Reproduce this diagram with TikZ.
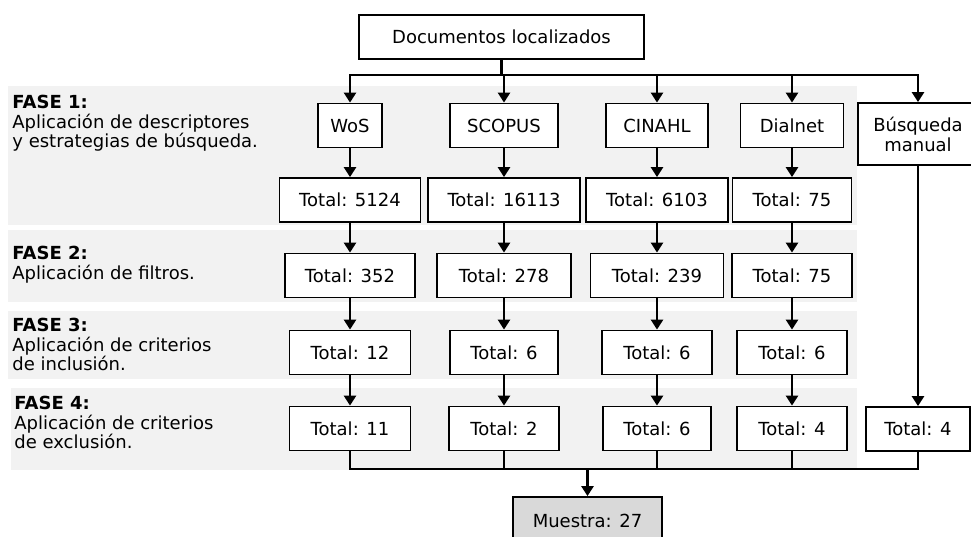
\documentclass[tikz,border=0pt]{standalone}
\usepackage{fontspec}
\setmainfont{DejaVu Sans}
\usetikzlibrary{positioning,calc,arrows.meta}

\begin{document}
\begin{tikzpicture}[x=1pt,y=-1pt,>={Triangle[length=10pt,width=12pt]},
        line width=2.8pt,
        main node/.style={draw, rectangle, align=center, line width=1.8pt, fill=white,
          minimum height=44pt, inner sep=2pt, font=\fontsize{18}{20}\selectfont},
        phase/.style={anchor=north west, align=left, inner sep=0pt,
          font=\fontsize{18}{19.5}\selectfont},
        band/.style={fill=black!5, draw=none}]

\useasboundingbox (0,0) rectangle (971,536);

% grey bands of the four phases
\fill[band] (8,86) rectangle (857,225);
\fill[band] (8,230) rectangle (857,302);
\fill[band] (8,311) rectangle (857,379);
\fill[band] (11,388) rectangle (857,470);

\node[phase] (f1) at (11,94) {\textbf{FASE 1:}\\Aplicación de descriptores\\y estrategias de búsqueda.};
\node[phase] (f2) at (11,245) {\textbf{FASE 2:}\\Aplicación de filtros.};
\node[phase] (f3) at (11,317) {\textbf{FASE 3:}\\Aplicación de criterios\\de inclusión.};
\node[phase] (f4) at (13,395) {\textbf{FASE 4:}\\Aplicación de criterios\\de exclusión.};

\node[main node, minimum width=285pt, line width=2.6pt] (docs) at (501.5,37) {Documentos localizados};

\node[main node, minimum width=64pt]  (w0) at (350,125.5) {WoS};
\node[main node, minimum width=108pt] (s0) at (504,125.5) {SCOPUS};
\node[main node, minimum width=102pt] (c0) at (657,125.5) {CINAHL};
\node[main node, minimum width=103pt] (d0) at (792,125.5) {Dialnet};
\node[main node, minimum width=120pt, minimum height=62pt] (m0) at (918,134) {Búsqueda\\manual};

\node[main node, minimum width=141pt] (w1) at (350,200) {Total: 5124};
\node[main node, minimum width=152pt] (s1) at (504,200) {Total: 16113};
\node[main node, minimum width=142pt] (c1) at (657,200) {Total: 6103};
\node[main node, minimum width=119pt] (d1) at (792,200) {Total: 75};

\node[main node, minimum width=130pt] (w2) at (350,275.5) {Total: 352};
\node[main node, minimum width=134pt] (s2) at (504,275.5) {Total: 278};
\node[main node, minimum width=133pt] (c2) at (657,275.5) {Total: 239};
\node[main node, minimum width=120pt] (d2) at (792,275.5) {Total: 75};

\node[main node, minimum width=121pt] (w3) at (350,352.5) {Total: 12};
\node[main node, minimum width=108pt] (s3) at (504,352.5) {Total: 6};
\node[main node, minimum width=110pt] (c3) at (657,352.5) {Total: 6};
\node[main node, minimum width=110pt] (d3) at (792,352.5) {Total: 6};

\node[main node, minimum width=121pt] (w4) at (350,428.5) {Total: 11};
\node[main node, minimum width=110pt] (s4) at (504,428.5) {Total: 2};
\node[main node, minimum width=108pt] (c4) at (657,428.5) {Total: 6};
\node[main node, minimum width=110pt] (d4) at (792,428.5) {Total: 4};
\node[main node, minimum width=104pt] (m4) at (918,429) {Total: 4};

\node[main node, minimum width=149pt, minimum height=48pt, fill=black!15] (muestra) at (587.5,521) {Muestra: 27};

% split from the top box
\coordinate (split) at (501.5,75);
\draw (docs.south) -- (split);
\draw[->] (split) -| (w0.north);
\draw[->] (split) -| (m0.north);
\draw[->] (s0 |- split) -- (s0.north);
\draw[->] (c0 |- split) -- (c0.north);
\draw[->] (d0 |- split) -- (d0.north);

% down each column
\foreach \c in {w,s,c,d}{
  \draw[->] (\c0) -- (\c1);
  \draw[->] (\c1) -- (\c2);
  \draw[->] (\c2) -- (\c3);
  \draw[->] (\c3) -- (\c4);
}
\draw[->] (m0) -- (m4);

% join into the sample
\coordinate (join) at (587.5,469);
\draw (w4.south) |- (join);
\draw (m4.south) |- (join);
\draw (s4.south) -- (s4 |- join);
\draw (c4.south) -- (c4 |- join);
\draw (d4.south) -- (d4 |- join);
\draw[->] (join) -- (muestra.north);

\end{tikzpicture}
\end{document}
